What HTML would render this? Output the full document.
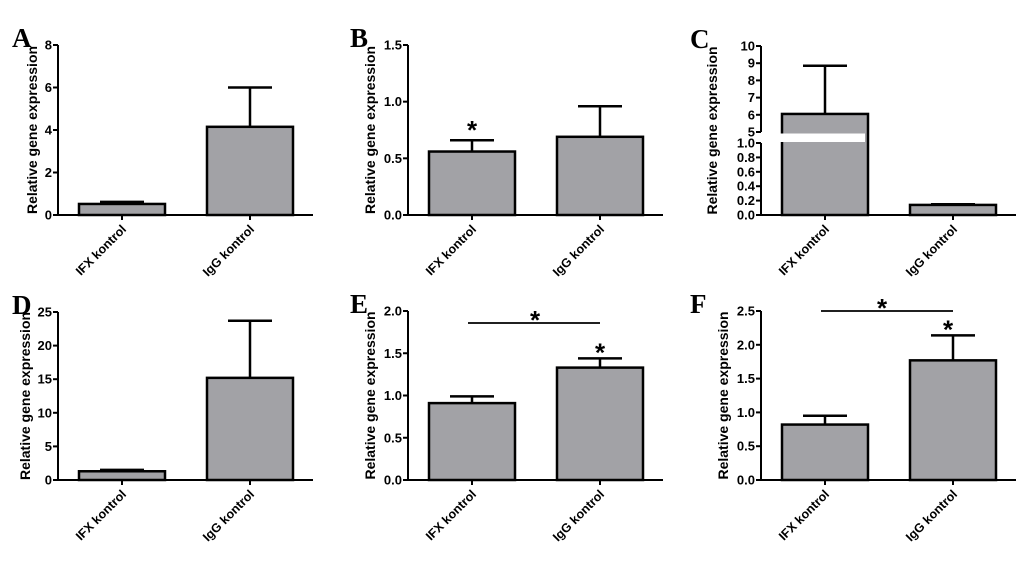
<!DOCTYPE html>
<html><head><meta charset="utf-8"><style>
body{margin:0;background:#fff;}
svg text{font-family:"Liberation Sans",Arial,sans-serif;font-weight:bold;}
.let{font-family:"Liberation Serif",serif;font-size:27px;font-weight:bold;}
</style></head><body>
<svg id="fig" width="1024" height="558" viewBox="0 0 1024 558" xmlns="http://www.w3.org/2000/svg"></svg>
<script>
const categories = ["IFX kontrol","IgG kontrol"];
const meansA = [0.52, 4.15], errA = [0.62, 6.0], ticksA = [0,2,4,6,8];
const meansB = [0.56, 0.69], errB = [0.66, 0.96], ticksB = [0,0.5,1.0,1.5];
const meansC = [6.05, 0.14], errC = [8.85, 0.15], ticksCLow = [0,0.2,0.4,0.6,0.8,1.0], ticksCHigh = [5,6,7,8,9,10];
const meansD = [1.3, 15.2], errD = [1.5, 23.7], ticksD = [0,5,10,15,20,25];
const meansE = [0.91, 1.33], errE = [0.99, 1.44], ticksE = [0,0.5,1.0,1.5,2.0];
const meansF = [0.82, 1.77], errF = [0.95, 2.14], ticksF = [0,0.5,1.0,1.5,2.0,2.5];

const NS="http://www.w3.org/2000/svg";
const svg=document.getElementById('fig');
function mk(tag,attrs,parent,txt){const e=document.createElementNS(NS,tag);for(const k in attrs)e.setAttribute(k,attrs[k]);if(txt!==undefined)e.textContent=txt;(parent||svg).appendChild(e);return e;}

function panel(id,letter,lx,ax,y0,yTop,ticks,means,errs,ys,tOff,sig){
  const g=mk('g',{});
  
  
  const L=mk('text',{x:lx,y:yTop+2,class:'let'},g,letter);
  
  
  const bw=86, offs=[21,149];
  means.forEach((m,i)=>{
    const x=ax+offs[i], cx=x+bw/2;
    const e=mk('line',{x1:cx,x2:cx,y1:ys(m),y2:ys(errs[i]),stroke:'#000','stroke-width':2.5},g);
    
    
    mk('line',{x1:cx-22,x2:cx+22,y1:ys(errs[i]),y2:ys(errs[i]),stroke:'#000','stroke-width':2.5},g);
    const r=mk('rect',{x:x,y:ys(m),width:bw,height:y0-ys(m),fill:'#a2a2a6',stroke:'#000','stroke-width':2.5},g);
    
    
    mk('line',{x1:cx,x2:cx,y1:y0,y2:y0+5,stroke:'#000','stroke-width':2},g);
    const t=mk('text',{x:0,y:0,'font-size':12.5,'text-anchor':'end',transform:`translate(${cx+5},${y0+15}) rotate(-45)`},g,categories[i]);
    
    
  });
  const xa=mk('line',{x1:ax,x2:ax+255,y1:y0,y2:y0,stroke:'#000','stroke-width':2},g);
  
  
  ticks.forEach(seg=>{
    const ya=mk('line',{x1:ax,x2:ax,y1:ys(seg.vals[0])+(seg.vals[0]===0?1:0),y2:ys(seg.vals[seg.vals.length-1]),stroke:'#000','stroke-width':2},g);
    
    
    seg.vals.forEach(v=>{
      mk('line',{x1:ax-5,x2:ax,y1:ys(v),y2:ys(v),stroke:'#000','stroke-width':2},g);
      const t=mk('text',{x:ax-6,y:ys(v)+4.5,'font-size':13,'text-anchor':'end'},g,v.toFixed(seg.dec));
      
      
    });
  });
  const yt=mk('text',{x:0,y:0,'font-size':14,'text-anchor':'middle',transform:`translate(${ax-tOff},${(y0+yTop)/2}) rotate(-90)`},g,'Relative gene expression');
  
  
  (sig||[]).forEach(s=>{
    if(s.line){const l=mk('line',{x1:ax+60,x2:ax+192,y1:s.y,y2:s.y,stroke:'#000','stroke-width':1.8},g);
      
      }
    const st=mk('text',{x:s.x,y:s.ty,'font-size':26,'text-anchor':'middle'},g,'*');
    
    
  });
}
function lin(ticks,y0,yTop){const mx=ticks[ticks.length-1];return v=>y0-(v/mx)*(y0-yTop);}

panel('a','A',12,58,215,45,[{vals:ticksA,dec:0}],meansA,errA,lin(ticksA,215,45),21);
const sB=lin(ticksB,215,45);
panel('b','B',350,408,215,45,[{vals:ticksB,dec:1}],meansB,errB,sB,33,[{x:472,ty:sB(errB[0])-1}]);
const sC=v=> v<=1 ? 215-v*72 : 132-(v-5)*17.2;
panel('c','C',690,761,215,46,[{vals:ticksCLow,dec:1},{vals:ticksCHigh,dec:0}],meansC,errC,sC,44);
const gap=mk('rect',{x:755,y:133.5,width:110,height:8.5,fill:'#fff'});


panel('d','D',12,58,480,312,[{vals:ticksD,dec:0}],meansD,errD,lin(ticksD,480,312),28);
const sE=lin(ticksE,480,311);
panel('e','E',350,408,480,311,[{vals:ticksE,dec:1}],meansE,errE,sE,33,[{line:true,y:323,x:535,ty:329},{x:600,ty:sE(errE[1])+3}]);
const sF=lin(ticksF,480,311);
panel('f','F',690,761,480,311,[{vals:ticksF,dec:1}],meansF,errF,sF,33,[{line:true,y:311,x:882,ty:317},{x:948,ty:sF(errF[1])+3}]);
</script>
</body></html>
